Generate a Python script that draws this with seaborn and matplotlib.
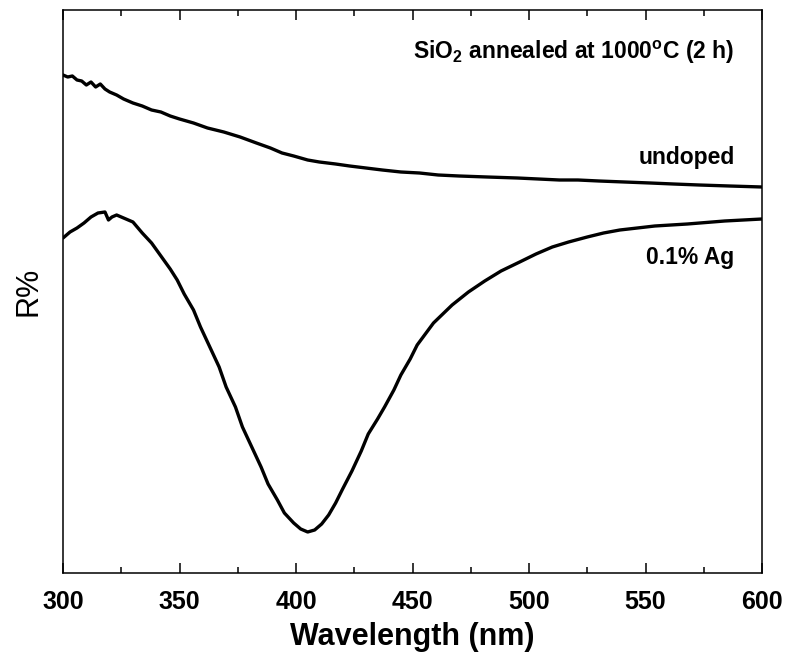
import numpy as np
import pandas as pd
import seaborn as sns
import matplotlib
matplotlib.use("Agg")
import matplotlib.pyplot as plt
from matplotlib.ticker import MultipleLocator, NullLocator

# reflectance spectra (arbitrary units)
wl_undoped = [300, 302, 304, 306, 308, 310, 312, 314, 316, 318, 320, 323, 326, 330, 334,
              338, 342, 346, 350, 356, 362, 369, 376, 383, 389, 394, 399, 405, 410,
              417, 423, 430, 437, 445, 453, 461, 470, 482, 495, 504, 513, 521, 530,
              541, 552, 562, 573, 586, 600]
r_undoped = [49.8, 49.6, 49.7, 49.3, 49.2, 48.8, 49.1, 48.6, 48.9, 48.4, 48.1, 47.8, 47.4,
             47.0, 46.7, 46.3, 46.1, 45.7, 45.4, 45.0, 44.5, 44.1, 43.6, 43.0, 42.5,
             42.0, 41.7, 41.3, 41.1, 40.9, 40.7, 40.5, 40.3, 40.1, 40.0, 39.8, 39.7,
             39.6, 39.5, 39.4, 39.3, 39.3, 39.2, 39.1, 39.0, 38.9, 38.8, 38.7, 38.6]

wl_ag = [300, 303, 306, 309, 312, 315, 318, 319.5, 321, 323, 326, 330, 334, 338, 342,
         346, 349, 352, 356, 359, 363, 367, 370, 374, 377, 381, 385, 388, 392, 395,
         399, 402, 405, 408, 411, 414, 417, 420, 424, 428, 431, 435, 438, 442, 445,
         449, 452, 459, 467, 474, 481, 488, 496, 503, 510, 517, 525, 532, 539, 554,
         568, 584, 600]
r_ag = [33.5, 34.1, 34.5, 35.0, 35.6, 36.0, 36.1, 35.3, 35.6, 35.8, 35.5, 35.1, 34.0,
        33.0, 31.7, 30.4, 29.3, 27.9, 26.3, 24.6, 22.6, 20.6, 18.6, 16.6, 14.6, 12.6,
        10.6, 8.9, 7.3, 6.0, 5.0, 4.4, 4.1, 4.3, 4.9, 5.8, 7.0, 8.4, 10.2, 12.2, 13.9,
        15.4, 16.6, 18.3, 19.8, 21.4, 22.8, 25.0, 26.8, 28.1, 29.2, 30.2, 31.1, 31.9,
        32.6, 33.1, 33.6, 34.0, 34.3, 34.7, 34.9, 35.2, 35.4]

df = pd.concat([
    pd.DataFrame({"wl": wl_undoped, "R": r_undoped, "sample": "undoped"}),
    pd.DataFrame({"wl": wl_ag, "R": r_ag, "sample": "0.1% Ag"}),
])

sns.set_theme(style="ticks")
plt.rcParams['font.family'] = ['Liberation Sans', 'DejaVu Sans']
plt.rcParams['mathtext.fontset'] = 'custom'
plt.rcParams['mathtext.rm'] = 'Liberation Sans'
plt.rcParams['mathtext.bf'] = 'Liberation Sans:bold'
plt.rcParams['text.color'] = 'black'
plt.rcParams['axes.labelcolor'] = 'black'
plt.rcParams['xtick.color'] = 'black'

fig = plt.figure(figsize=(7.85, 6.58), dpi=100)
ax = fig.add_axes([0.0803, 0.1292, 0.8904, 0.8556])

sns.lineplot(data=df, x="wl", y="R", units="sample", estimator=None,
             color="black", linewidth=2.4, sort=False, ax=ax,
             solid_joinstyle='round')

ax.set_xlim(300, 600)
ax.set_ylim(0, 56.3)
ax.xaxis.set_major_locator(MultipleLocator(50))
ax.xaxis.set_minor_locator(MultipleLocator(25))
ax.yaxis.set_major_locator(NullLocator())
ax.tick_params(axis='x', which='both', direction='in', top=True, bottom=True, width=1.1)
ax.tick_params(axis='x', which='major', length=7, labelsize=18, pad=12)
ax.tick_params(axis='x', which='minor', length=4)
for lab in ax.get_xticklabels():
    lab.set_fontweight('bold')
for sp in ax.spines.values():
    sp.set_linewidth(1.1)
    sp.set_color('black')

ax.set_xlabel("Wavelength (nm)", fontsize=22, fontweight='bold', labelpad=6)
ax.set_ylabel("R%", fontsize=22, labelpad=14)

ax.text(0.961, 0.925, r"SiO$_\mathbf{2}$ annealed at 1000$^\mathbf{o}$C (2 h)",
        transform=ax.transAxes, ha='right', va='center', fontsize=16.5, fontweight='bold')
ax.text(0.961, 0.738, "undoped", transform=ax.transAxes, ha='right', va='center',
        fontsize=16.5, fontweight='bold')
ax.text(0.961, 0.56, "0.1% Ag", transform=ax.transAxes, ha='right', va='center',
        fontsize=16.5, fontweight='bold')

fig.savefig("out.png", dpi=100)
